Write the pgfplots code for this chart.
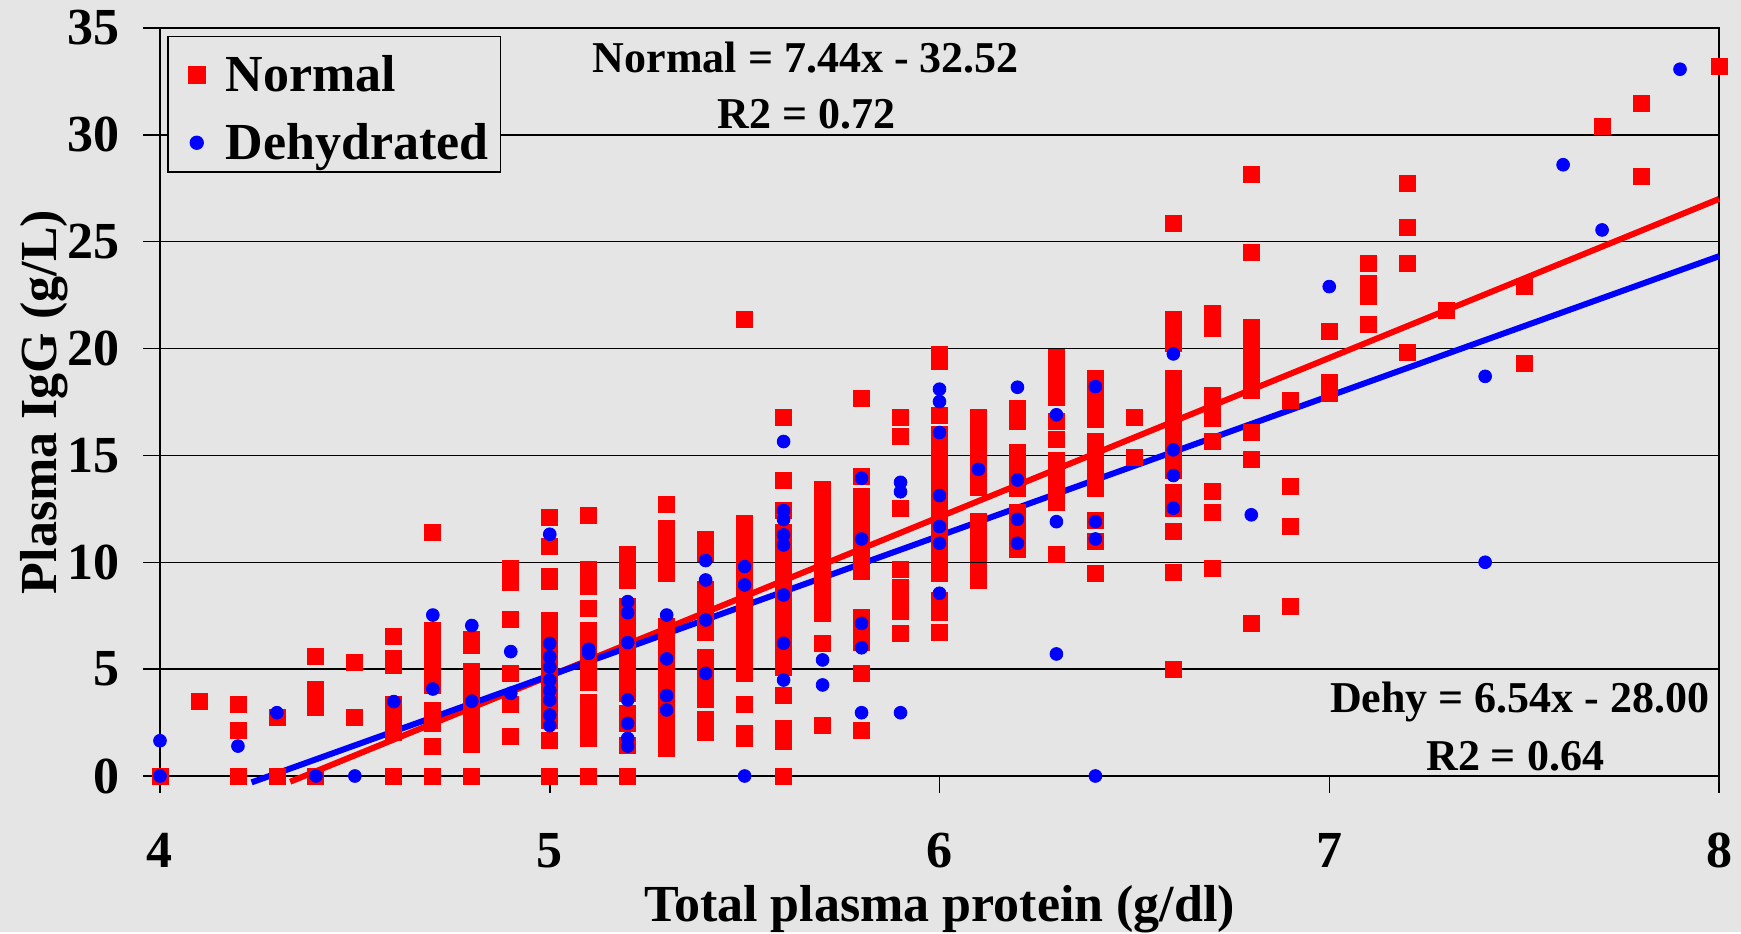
\documentclass[border=0pt]{standalone}
\usepackage{pgfplots}
\pgfplotsset{compat=1.18}
\usepackage{fontspec}
\setmainfont{Liberation Serif}
\usetikzlibrary{backgrounds}
\definecolor{bg}{RGB}{229,229,229}
\definecolor{myred}{RGB}{255,0,0}
\definecolor{myblue}{RGB}{0,0,255}
\begin{document}
\begin{tikzpicture}
\begin{axis}[name=ax, scale only axis, width=779.5pt, height=374pt,
  xmin=4, xmax=8, ymin=0, ymax=35,
  xtick={4,5,6,7,8}, ytick={0,5,10,15,20,25,30,35},
  xtick pos=left, ytick pos=left,
  ymajorgrids, grid style={black, line width=0.75pt},
  axis line style={black, line width=0.75pt},
  tick style={black, line width=0.75pt},
  tick align=outside, major tick length=8.5pt,
  /pgf/number format/assume math mode=true,
  ticklabel style={font=\fontsize{26}{26}\selectfont\bfseries},
  xticklabel style={anchor=north, inner sep=0pt, yshift=-20pt},
  yticklabel style={anchor=east, inner sep=0pt, xshift=-11.5pt},
  clip=false,
  axis background/.style={fill=bg},
  xlabel={Total plasma protein (g/dl)},
  ylabel={Plasma IgG (g/L)},
  every axis x label/.style={at={(axis description cs:0.5,-0.1948)}, anchor=base, inner sep=0pt, font=\fontsize{26}{26}\selectfont\bfseries},
  every axis y label/.style={at={(axis description cs:-0.0664,0.5)}, rotate=90, anchor=base, inner sep=0pt, font=\fontsize{26}{26}\selectfont\bfseries},
  legend style={at={(axis description cs:0.0045,0.9893)}, anchor=north west,
    draw=black, line width=0.75pt, fill=bg,
    font=\fontsize{26}{30}\selectfont\bfseries,
    inner xsep=6pt, inner ysep=0pt, row sep=0pt,
    nodes={inner sep=0pt, text height=27.5pt, text depth=6.3pt},
    /tikz/column 1/.style={column sep=6pt}},
  legend cell align=left,
  legend image code/.code={\path[draw=none,fill=none] (-8.5pt,0pt) -- (8.5pt,0pt); \path[#1] plot[only marks] coordinates {(0pt,-2.3pt)};},
]
\addplot[only marks, mark=square*, mark size=4pt, draw=myred, fill=myred] coordinates {
(4.0,0)
(4.1,3.48)
(4.2,3.35)(4.2,2.12)(4.2,0)
(4.3,2.73)(4.3,0)
(4.4,5.58)(4.4,4.07)(4.4,3.65)(4.4,3.23)(4.4,0)
(4.5,5.3)(4.5,2.73)
(4.6,6.52)(4.6,5.48)(4.6,5.16)(4.6,3.34)(4.6,2.9)(4.6,2.5)(4.6,2.06)(4.6,0)
(4.7,11.4)(4.7,6.8)(4.7,6.3)(4.7,5.8)(4.7,5.3)(4.7,4.8)(4.7,4.24)(4.7,3.06)(4.7,2.45)(4.7,1.4)(4.7,0)
(4.8,6.4)(4.8,6.1)(4.8,4.9)(4.8,4.4)(4.8,3.9)(4.8,3.4)(4.8,2.9)(4.8,2.4)(4.8,2.0)(4.8,1.5)(4.8,0)
(4.9,9.73)(4.9,9.05)(4.9,7.33)(4.9,4.79)(4.9,3.35)(4.9,1.84)
(5.0,12.1)(5.0,10.76)(5.0,9.34)(5.0,9.1)(5.0,7.3)(5.0,6.8)(5.0,6.3)(5.0,5.8)(5.0,5.3)(5.0,4.8)(5.0,4.3)(5.0,3.8)(5.0,3.3)(5.0,2.8)(5.0,2.6)(5.0,1.65)(5.0,0)
(5.1,12.18)(5.1,9.66)(5.1,8.86)(5.1,7.83)(5.1,6.79)(5.1,6.07)(5.1,5.5)(5.1,5.0)(5.1,4.4)(5.1,3.46)(5.1,2.95)(5.1,2.4)(5.1,1.75)(5.1,0)
(5.2,10.36)(5.2,9.8)(5.2,9.16)(5.2,7.94)(5.2,7.4)(5.2,6.9)(5.2,6.4)(5.2,5.9)(5.2,5.4)(5.2,4.9)(5.2,4.4)(5.2,3.85)(5.2,2.95)(5.2,2.45)(5.2,1.45)(5.2,0)
(5.3,12.7)(5.3,11.58)(5.3,10.8)(5.3,10.1)(5.3,9.47)(5.3,7.0)(5.3,6.5)(5.3,6.0)(5.3,5.5)(5.3,5.0)(5.3,4.5)(5.3,4.0)(5.3,3.5)(5.3,3.0)(5.3,2.5)(5.3,2.0)(5.3,1.5)(5.3,1.28)
(5.4,11.09)(5.4,10.4)(5.4,8.72)(5.4,8.2)(5.4,7.7)(5.4,7.2)(5.4,6.74)(5.4,5.55)(5.4,5.0)(5.4,4.5)(5.4,4.0)(5.4,3.6)(5.4,2.64)(5.4,2.03)
(5.5,21.36)(5.5,11.8)(5.5,11.3)(5.5,10.8)(5.5,10.3)(5.5,9.8)(5.5,9.3)(5.5,8.8)(5.5,8.3)(5.5,7.8)(5.5,7.3)(5.5,6.8)(5.5,6.3)(5.5,5.8)(5.5,5.3)(5.5,4.8)(5.5,3.34)(5.5,2.0)(5.5,1.75)
(5.6,16.79)(5.6,13.82)(5.6,12.42)(5.6,11.4)(5.6,10.9)(5.6,10.4)(5.6,9.9)(5.6,9.4)(5.6,8.9)(5.6,8.4)(5.6,7.9)(5.6,7.4)(5.6,6.9)(5.6,6.4)(5.6,5.9)(5.6,5.4)(5.6,5.1)(5.6,3.76)(5.6,2.25)(5.6,1.6)(5.6,0)
(5.7,13.43)(5.7,12.9)(5.7,12.4)(5.7,11.9)(5.7,11.4)(5.7,10.9)(5.7,10.4)(5.7,9.9)(5.7,9.4)(5.7,8.9)(5.7,8.4)(5.7,7.9)(5.7,7.63)(5.7,6.19)(5.7,2.36)
(5.8,17.69)(5.8,14.0)(5.8,13.1)(5.8,12.6)(5.8,12.1)(5.8,11.6)(5.8,11.1)(5.8,10.6)(5.8,10.1)(5.8,9.55)(5.8,7.4)(5.8,6.8)(5.8,6.27)(5.8,4.79)(5.8,2.12)
(5.9,16.77)(5.9,15.87)(5.9,12.53)(5.9,9.66)(5.9,8.83)(5.9,8.3)(5.9,7.72)(5.9,6.68)
(6.0,19.72)(6.0,19.42)(6.0,16.86)(6.0,16.0)(6.0,15.5)(6.0,15.0)(6.0,14.5)(6.0,14.0)(6.0,13.5)(6.0,13.0)(6.0,12.5)(6.0,12.0)(6.0,11.5)(6.0,11.0)(6.0,10.5)(6.0,10.0)(6.0,9.5)(6.0,8.22)(6.0,7.64)(6.0,6.71)
(6.1,16.8)(6.1,16.3)(6.1,15.8)(6.1,15.3)(6.1,14.8)(6.1,14.3)(6.1,13.51)(6.1,11.89)(6.1,11.4)(6.1,10.9)(6.1,10.4)(6.1,9.55)(6.1,9.14)
(6.2,17.19)(6.2,16.57)(6.2,15.16)(6.2,14.6)(6.2,14.0)(6.2,13.45)(6.2,12.34)(6.2,11.9)(6.2,11.54)(6.2,10.8)(6.2,10.6)
(6.3,19.6)(6.3,19.1)(6.3,18.6)(6.3,18.1)(6.3,17.7)(6.3,16.6)(6.3,15.74)(6.3,14.76)(6.3,14.2)(6.3,13.5)(6.3,12.79)(6.3,10.36)
(6.4,18.6)(6.4,18.1)(6.4,17.6)(6.4,17.1)(6.4,16.68)(6.4,15.66)(6.4,14.96)(6.4,14.17)(6.4,13.45)(6.4,11.98)(6.4,10.97)(6.4,9.47)
(6.5,16.77)(6.5,14.93)
(6.6,25.85)(6.6,21.36)(6.6,20.8)(6.6,20.23)(6.6,18.6)(6.6,18.0)(6.6,17.4)(6.6,16.8)(6.6,16.26)(6.6,15.48)(6.6,14.9)(6.6,14.3)(6.6,13.25)(6.6,12.5)(6.6,11.43)(6.6,9.52)(6.6,5.0)
(6.7,21.64)(6.7,20.94)(6.7,17.8)(6.7,17.25)(6.7,16.72)(6.7,15.66)(6.7,13.32)(6.7,12.32)(6.7,9.73)
(6.8,28.14)(6.8,24.48)(6.8,21.0)(6.8,20.3)(6.8,19.6)(6.8,18.8)(6.8,18.05)(6.8,16.1)(6.8,14.82)(6.8,7.13)
(6.9,17.58)(6.9,13.53)(6.9,11.7)(6.9,7.94)
(7.0,20.8)(7.0,18.4)(7.0,17.9)
(7.1,23.98)(7.1,23.07)(7.1,22.46)(7.1,21.12)
(7.2,27.75)(7.2,25.69)(7.2,23.98)(7.2,19.81)
(7.3,21.8)
(7.5,22.9)(7.5,19.3)
(7.7,30.4)
(7.8,31.45)(7.8,28.05)
(8.0,33.2)
};
\addlegendentry{Normal}
\addplot[only marks, mark=*, mark size=3.2pt, draw=myblue, fill=myblue] coordinates {
(4.0,1.65)(4.0,0)
(4.2,1.4)
(4.3,2.96)
(4.4,0)
(4.5,0)
(4.6,3.48)
(4.7,7.53)(4.7,4.07)
(4.8,7.04)(4.8,3.5)
(4.9,5.82)(4.9,3.87)
(5.0,11.31)(5.0,6.2)(5.0,5.58)(5.0,5.1)(5.0,4.49)(5.0,4.0)(5.0,3.55)(5.0,2.85)(5.0,2.36)
(5.1,5.93)(5.1,5.74)
(5.2,8.16)(5.2,7.64)(5.2,6.24)(5.2,3.56)(5.2,2.46)(5.2,1.76)(5.2,1.4)
(5.3,7.53)(5.3,5.48)(5.3,3.76)(5.3,3.09)
(5.4,10.08)(5.4,9.17)(5.4,7.3)(5.4,4.8)
(5.5,9.8)(5.5,8.94)(5.5,0)
(5.6,15.65)(5.6,12.42)(5.6,12.0)(5.6,11.28)(5.6,10.81)(5.6,8.47)(5.6,6.21)(5.6,4.49)
(5.7,5.43)(5.7,4.26)
(5.8,13.93)(5.8,11.09)(5.8,7.14)(5.8,6.0)(5.8,2.96)
(5.9,13.74)(5.9,13.3)(5.9,2.96)
(6.0,18.1)(6.0,17.52)(6.0,16.07)(6.0,13.12)(6.0,11.67)(6.0,10.89)(6.0,8.55)
(6.1,14.35)
(6.2,18.19)(6.2,13.85)(6.2,12.01)(6.2,10.89)
(6.3,16.9)(6.3,11.9)(6.3,5.71)
(6.4,18.22)(6.4,11.9)(6.4,11.09)(6.4,0)
(6.6,19.75)(6.6,15.26)(6.6,14.06)(6.6,12.53)
(6.8,12.22)
(7.0,22.9)
(7.4,18.7)(7.4,10.0)
(7.6,28.6)
(7.7,25.55)
(7.9,33.07)
};
\addlegendentry{Dehydrated}
\addplot[forget plot, myred, line width=3pt] coordinates {(4.334,-0.27) (8.0,27.0)};
\addplot[forget plot, myblue, line width=3pt] coordinates {(4.235,-0.30) (8.0,24.32)};
\node[anchor=base, inner sep=0pt, font=\fontsize{22}{22}\selectfont\bfseries] at (axis cs:5.657,32.9) {Normal = 7.44x - 32.52};
\node[anchor=base, inner sep=0pt, font=\fontsize{22}{22}\selectfont\bfseries] at (axis cs:5.659,30.32) {R2 = 0.72};
\node[anchor=base east, inner sep=0pt, font=\fontsize{22}{22}\selectfont\bfseries] at (axis cs:7.977,2.95) {Dehy = 6.54x - 28.00};
\node[anchor=base, inner sep=0pt, font=\fontsize{22}{22}\selectfont\bfseries] at (axis cs:7.477,0.28) {R2 = 0.64};
\end{axis}
\begin{pgfonlayer}{background}
\fill[bg] ([shift={(-80pt,-78pt)}]ax.south west) rectangle ([shift={(11pt,14pt)}]ax.north east);
\end{pgfonlayer}
\end{tikzpicture}
\end{document}
